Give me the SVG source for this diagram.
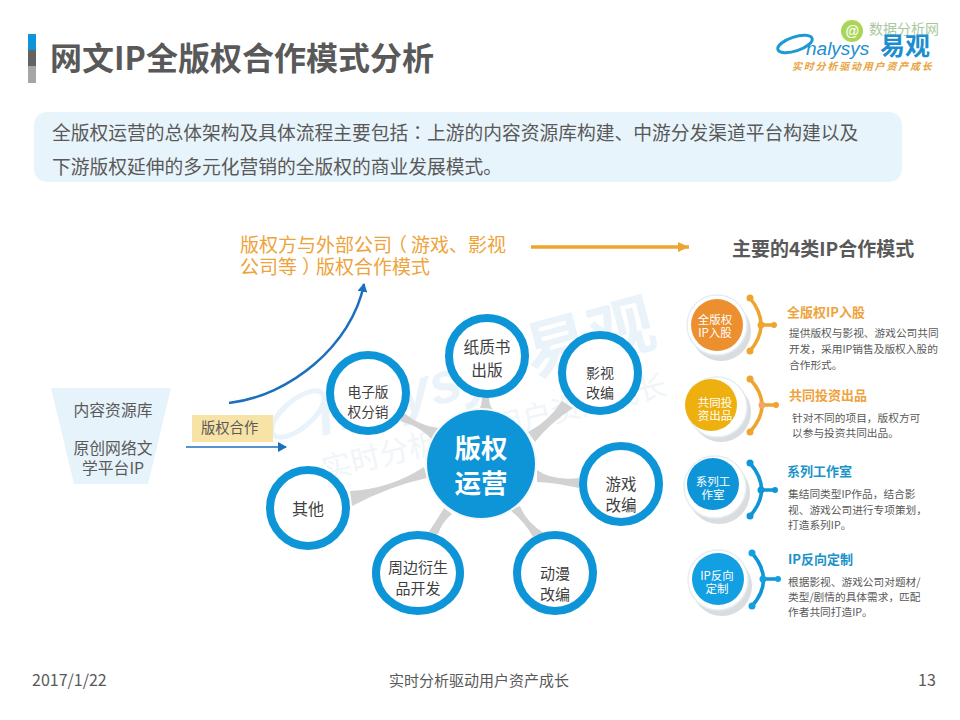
<svg xmlns="http://www.w3.org/2000/svg" width="960" height="720" viewBox="0 0 960 720">
<style>
text{font-family:"Noto Sans CJK SC","Liberation Sans",sans-serif}
.ring{fill:#fff;stroke:#0e95d8;stroke-width:8}
.nt{fill:#404040;text-anchor:middle}
.spoke{fill:#d2d2d2}
.ct{font-size:11.5px;fill:#fff;text-anchor:middle}
.dt{font-size:10.7px;fill:#595959}
.h{font-size:13px;font-weight:700}
.halo{fill:#fff;stroke:#e6eef3;stroke-width:1.5}
.shadow{fill:#d9dde0}
.bo{fill:none;stroke:#eea52f;stroke-width:3.5}
.bb{fill:none;stroke:#0e95d8;stroke-width:3.5}
</style>
<defs>
<marker id="ah2" markerWidth="9" markerHeight="10" refX="8" refY="5" orient="auto" markerUnits="userSpaceOnUse"><path d="M0 0L9 5L0 10z" fill="#1b6fbd"/></marker>
<marker id="ao" markerWidth="12" markerHeight="12" refX="11" refY="6" orient="auto" markerUnits="userSpaceOnUse"><path d="M0 1L11 6L0 11z" fill="#eea52f"/></marker>
</defs>
<rect width="960" height="720" fill="#fff"/>

<g id="watermark">
<ellipse cx="298" cy="414" rx="32" ry="14" transform="rotate(-40 298 414)" fill="none" stroke="#eaf3fa" stroke-width="5"/>
<text x="322" y="436" font-size="58" font-style="italic" font-weight="700" fill="#eaf3fa" transform="rotate(-15 322 436)" style="font-family:'Liberation Sans',sans-serif">nalysys</text>
<text x="532" y="378" font-size="66" font-weight="700" fill="#eaf3fa" transform="rotate(-15 532 378)">易观</text>
<text x="325" y="480" font-size="29.5" fill="#f0f5f9" transform="rotate(-14 325 480)">实时分析驱动用户资产成长</text>
</g>

<g id="header">
<rect x="28" y="34" width="8" height="16" fill="#0e95d8"/>
<rect x="28" y="50" width="8" height="16" fill="#636363"/>
<rect x="28" y="66" width="8" height="17" fill="#a6a6a6"/>
<text x="50" y="70" font-size="32" font-weight="700" fill="#595959">网文IP全版权合作模式分析</text>
</g>

<g id="logo">
<circle cx="852" cy="31" r="11" fill="#a9d656"/>
<text x="852" y="36" font-size="14" fill="#fff" text-anchor="middle" style="font-family:'Liberation Sans',sans-serif" font-style="italic" font-weight="700">@</text>
<text x="869" y="34" font-size="14" fill="#a8c9a0">数据分析网</text>
<ellipse cx="795" cy="44" rx="18" ry="7" transform="rotate(-18 795 44)" fill="none" stroke="#1c9ad6" stroke-width="3"/>
<text x="806" y="55" font-size="19" font-style="italic" fill="#1c8ed0" style="font-family:'Liberation Sans',sans-serif">nalysys</text>
<text x="880" y="55" font-size="25" font-weight="700" fill="#1c8ed0">易观</text>
<text x="792" y="70" font-size="10" font-weight="700" font-style="italic" fill="#e8a33d" letter-spacing="1.8">实时分析驱动用户资产成长</text>
</g>

<g id="intro">
<rect x="34" y="112" width="868" height="70" rx="13" fill="#e8f4fb"/>
<text x="52" y="140" font-size="18.75" fill="#595959">全版权运营的总体架构及具体流程主要包括<tspan style="font-family:'Noto Sans CJK TC'">：</tspan>上游的内容资源库构建、中游分发渠道平台构建以及</text>
<text x="52" y="174" font-size="18.75" fill="#595959">下游版权延伸的多元化营销的全版权的商业发展模式。</text>
</g>

<g id="connectors">
<path class="spoke" d="M404 413Q420 426 438 428L433 441Q422 427 400 421z"/>
<path class="spoke" d="M482 397L489 397Q489 405 493 410L479 410Q482 405 482 397z"/>
<path class="spoke" d="M528 432Q548 422 562 401L573 408Q550 423 535 442z"/>
<path class="spoke" d="M537 470Q552 481 579 478L579 488Q552 482 537 482z"/>
<path class="spoke" d="M510 510L520 506Q526 522 544 533L533 537Q525 522 510 510z"/>
<path class="spoke" d="M444 508L452 514Q442 522 438 534L428 533Q437 520 444 508z"/>
<path class="spoke" d="M350 491Q390 489 424 467L427 478Q390 486 352 506z"/>
<path d="M229 403C290 396 352 345 364 284" fill="none" stroke="#1b6fbd" stroke-width="2.5" marker-end="url(#ah2)"/>
<line x1="186" y1="447" x2="286" y2="447" stroke="#1b6fbd" stroke-width="1.3" marker-end="url(#ah2)"/>
<line x1="531" y1="247" x2="689" y2="247" stroke="#eea52f" stroke-width="3.5" marker-end="url(#ao)"/>
</g>

<g id="source">
<path d="M51 388H171L148 484H74z" fill="#e6f3fa"/>
<text x="113" y="416" font-size="15.8" fill="#595959" text-anchor="middle">内容资源库</text>
<text x="113" y="454" font-size="15.8" fill="#595959" text-anchor="middle">原创网络文</text>
<text x="113" y="474" font-size="15.8" fill="#595959" text-anchor="middle">学平台IP</text>
</g>

<g id="label-cooperation">
<rect x="192" y="415" width="81" height="27" fill="#f8e3a6"/>
<text x="201" y="433" font-size="14.3" fill="#595959">版权合作</text>
</g>

<g id="label-external" font-size="19" fill="#eea33b">
<text x="240" y="252">版权方与外部公司<tspan dx="-4">（</tspan><tspan dx="4">游戏、影视</tspan></text>
<text x="240" y="274">公司等<tspan dx="5">）</tspan><tspan dx="-5">版权合作模式</tspan></text>
</g>
<text id="label-modes" x="732" y="256" font-size="19" font-weight="700" fill="#595959">主要的4类IP合作模式</text>

<g id="node-center">
<circle cx="481" cy="464" r="56" fill="#f4f8fb"/>
<circle cx="481" cy="464" r="54" fill="#0e95d8"/>
<text x="481" y="458" font-size="26.5" font-weight="700" fill="#fff" text-anchor="middle">版权</text>
<text x="481" y="493" font-size="26.5" font-weight="700" fill="#fff" text-anchor="middle">运营</text>
</g>
<g id="node-ebook"><circle class="ring" cx="368" cy="393" r="38"/><text class="nt" x="368" y="397" font-size="13.7">电子版</text><text class="nt" x="368" y="417" font-size="13.7">权分销</text></g>
<g id="node-print"><circle class="ring" cx="487" cy="356" r="38"/><text class="nt" x="487" y="353" font-size="15.7">纸质书</text><text class="nt" x="487" y="376" font-size="15.7">出版</text></g>
<g id="node-film"><circle class="ring" cx="600" cy="373" r="38"/><text class="nt" x="600" y="378" font-size="14">影视</text><text class="nt" x="600" y="398" font-size="14">改编</text></g>
<g id="node-game"><circle class="ring" cx="621" cy="484" r="38"/><text class="nt" x="621" y="490" font-size="15.5">游戏</text><text class="nt" x="621" y="511" font-size="15.5">改编</text></g>
<g id="node-anime"><circle class="ring" cx="555" cy="573" r="38"/><text class="nt" x="555" y="579" font-size="15">动漫</text><text class="nt" x="555" y="600" font-size="15">改编</text></g>
<g id="node-derivative"><ellipse class="ring" cx="418" cy="573" rx="42" ry="38"/><text class="nt" x="418" y="573" font-size="15">周边衍生</text><text class="nt" x="418" y="594" font-size="15">品开发</text></g>
<g id="node-other"><circle class="ring" cx="308" cy="508" r="38"/><text class="nt" x="308" y="515" font-size="16">其他</text></g>

<g id="mode-1">
<circle class="shadow" cx="721" cy="331" r="30"/><circle class="halo" cx="717" cy="325" r="30"/>
<circle cx="717" cy="325" r="26" fill="#ec8f2f"/>
<text class="ct" x="715" y="324">全版权</text><text class="ct" x="715" y="337">IP入股</text>
<path class="bo" d="M750 298Q772 325 750 351"/><path class="bo" d="M761 325H774" stroke-width="3"/>
<circle cx="750" cy="298" r="3.5" fill="#eea52f"/><circle cx="750" cy="351" r="3.5" fill="#eea52f"/><circle cx="761" cy="325" r="3.5" fill="#eea52f"/><circle cx="774" cy="325" r="3" fill="#eea52f"/>
<text class="h" x="787" y="317" fill="#eea33b">全版权IP入股</text>
<text class="dt" x="789" y="337">提供版权与影视、游戏公司共同</text>
<text class="dt" x="789" y="353">开发，采用IP销售及版权入股的</text>
<text class="dt" x="789" y="369">合作形式。</text>
</g>
<g id="mode-2">
<circle class="shadow" cx="721" cy="412" r="30"/><circle class="halo" cx="717" cy="407" r="30"/>
<circle cx="711" cy="405" r="26" fill="#eeb00f"/>
<text class="ct" x="715" y="407">共同投</text><text class="ct" x="715" y="420">资出品</text>
<path class="bo" d="M750 379Q774 405 750 432"/><path class="bo" d="M762 405H776" stroke-width="3"/>
<circle cx="750" cy="379" r="3.5" fill="#eea52f"/><circle cx="750" cy="432" r="3.5" fill="#eea52f"/><circle cx="762" cy="405" r="3.5" fill="#f1a76a"/><circle cx="776" cy="405" r="3" fill="#eea52f"/>
<text class="h" x="789" y="400" fill="#eea33b">共同投资出品</text>
<text class="dt" x="792" y="422">针对不同的项目，版权方可</text>
<text class="dt" x="792" y="437">以参与投资共同出品。</text>
</g>
<g id="mode-3">
<circle class="shadow" cx="719" cy="493" r="31"/><circle class="halo" cx="715" cy="487" r="31"/>
<circle cx="713" cy="484" r="26" fill="#0e95d8"/>
<text class="ct" x="713" y="486">系列工</text><text class="ct" x="713" y="499">作室</text>
<path class="bb" d="M750 463Q773 490 750 516"/><path class="bb" d="M761 490H775" stroke-width="3"/>
<circle cx="750" cy="463" r="3.5" fill="#0e95d8"/><circle cx="750" cy="516" r="3.5" fill="#0e95d8"/><circle cx="761" cy="490" r="3.5" fill="#0e95d8"/><circle cx="775" cy="490" r="3" fill="#0e95d8"/>
<text class="h" x="787" y="476" fill="#1a93c9">系列工作室</text>
<text class="dt" x="788" y="498">集结同类型IP作品，结合影</text>
<text class="dt" x="788" y="514">视、游戏公司进行专项策划，</text>
<text class="dt" x="788" y="529">打造系列IP。</text>
</g>
<g id="mode-4">
<circle class="shadow" cx="722" cy="586" r="30"/><circle class="halo" cx="718" cy="580" r="30"/>
<circle cx="718" cy="579" r="26" fill="#12a0e2"/>
<text class="ct" x="717" y="580">IP反向</text><text class="ct" x="717" y="593">定制</text>
<path class="bb" d="M752 553Q775 580 752 606"/><path class="bb" d="M763 579H778" stroke-width="3"/>
<circle cx="752" cy="553" r="3.5" fill="#12a0e2"/><circle cx="752" cy="606" r="3.5" fill="#12a0e2"/><circle cx="763" cy="579" r="3.5" fill="#12a0e2"/><circle cx="778" cy="579" r="3" fill="#12a0e2"/>
<text class="h" x="788" y="564" fill="#1a93c9">IP反向定制</text>
<text class="dt" x="788" y="586">根据影视、游戏公司对题材/</text>
<text class="dt" x="788" y="601">类型/剧情的具体需求，匹配</text>
<text class="dt" x="788" y="616">作者共同打造IP。</text>
</g>

<g id="footer" fill="#595959">
<text x="32" y="686" font-size="16">2017/1/22</text>
<text x="389" y="686" font-size="15">实时分析驱动用户资产成长</text>
<text x="918" y="686" font-size="16">13</text>
</g>
</svg>
